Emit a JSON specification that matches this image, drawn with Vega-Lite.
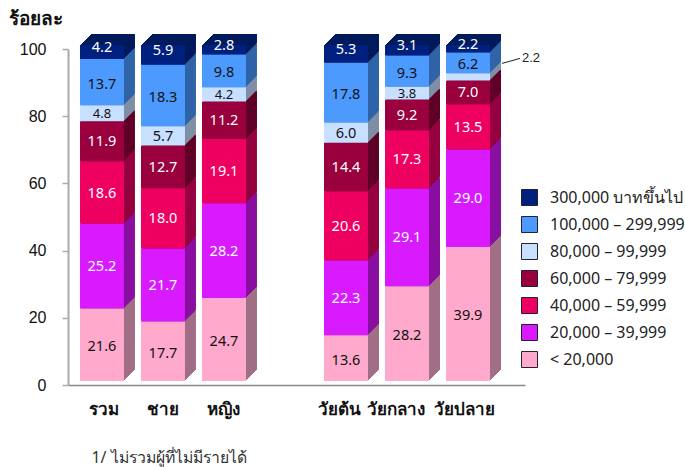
{"$schema":"https://vega.github.io/schema/vega-lite/v6.json","width":457,"height":336,"autosize":"none","padding":{"left":68,"top":49,"right":160,"bottom":82},"background":"white","config":{"view":{"stroke":null}},
"data":{"values":[
{"group":"รวม","income":"< 20,000","rank":1,"value":21.6},{"group":"รวม","income":"20,000 – 39,999","rank":2,"value":25.2},{"group":"รวม","income":"40,000 – 59,999","rank":3,"value":18.6},{"group":"รวม","income":"60,000 – 79,999","rank":4,"value":11.9},{"group":"รวม","income":"80,000 – 99,999","rank":5,"value":4.8},{"group":"รวม","income":"100,000 – 299,999","rank":6,"value":13.7},{"group":"รวม","income":"300,000 บาทขึ้นไป","rank":7,"value":4.2},
{"group":"ชาย","income":"< 20,000","rank":1,"value":17.7},{"group":"ชาย","income":"20,000 – 39,999","rank":2,"value":21.7},{"group":"ชาย","income":"40,000 – 59,999","rank":3,"value":18.0},{"group":"ชาย","income":"60,000 – 79,999","rank":4,"value":12.7},{"group":"ชาย","income":"80,000 – 99,999","rank":5,"value":5.7},{"group":"ชาย","income":"100,000 – 299,999","rank":6,"value":18.3},{"group":"ชาย","income":"300,000 บาทขึ้นไป","rank":7,"value":5.9},
{"group":"หญิง","income":"< 20,000","rank":1,"value":24.7},{"group":"หญิง","income":"20,000 – 39,999","rank":2,"value":28.2},{"group":"หญิง","income":"40,000 – 59,999","rank":3,"value":19.1},{"group":"หญิง","income":"60,000 – 79,999","rank":4,"value":11.2},{"group":"หญิง","income":"80,000 – 99,999","rank":5,"value":4.2},{"group":"หญิง","income":"100,000 – 299,999","rank":6,"value":9.8},{"group":"หญิง","income":"300,000 บาทขึ้นไป","rank":7,"value":2.8},
{"group":"วัยต้น","income":"< 20,000","rank":1,"value":13.6},{"group":"วัยต้น","income":"20,000 – 39,999","rank":2,"value":22.3},{"group":"วัยต้น","income":"40,000 – 59,999","rank":3,"value":20.6},{"group":"วัยต้น","income":"60,000 – 79,999","rank":4,"value":14.4},{"group":"วัยต้น","income":"80,000 – 99,999","rank":5,"value":6.0},{"group":"วัยต้น","income":"100,000 – 299,999","rank":6,"value":17.8},{"group":"วัยต้น","income":"300,000 บาทขึ้นไป","rank":7,"value":5.3},
{"group":"วัยกลาง","income":"< 20,000","rank":1,"value":28.2},{"group":"วัยกลาง","income":"20,000 – 39,999","rank":2,"value":29.1},{"group":"วัยกลาง","income":"40,000 – 59,999","rank":3,"value":17.3},{"group":"วัยกลาง","income":"60,000 – 79,999","rank":4,"value":9.2},{"group":"วัยกลาง","income":"80,000 – 99,999","rank":5,"value":3.8},{"group":"วัยกลาง","income":"100,000 – 299,999","rank":6,"value":9.3},{"group":"วัยกลาง","income":"300,000 บาทขึ้นไป","rank":7,"value":3.1},
{"group":"วัยปลาย","income":"< 20,000","rank":1,"value":39.9},{"group":"วัยปลาย","income":"20,000 – 39,999","rank":2,"value":29.0},{"group":"วัยปลาย","income":"40,000 – 59,999","rank":3,"value":13.5},{"group":"วัยปลาย","income":"60,000 – 79,999","rank":4,"value":7.0},{"group":"วัยปลาย","income":"80,000 – 99,999","rank":5,"value":2.2},{"group":"วัยปลาย","income":"100,000 – 299,999","rank":6,"value":6.2},{"group":"วัยปลาย","income":"300,000 บาทขึ้นไป","rank":7,"value":2.2}
]},
"transform":[{"stack":"value","groupby":["group"],"sort":[{"field":"rank","order":"ascending"}],"as":["y0","y1"]},{"calculate":"(datum.y0+datum.y1)/2","as":"mid"}],
"encoding":{"x":{"field":"group","type":"nominal","sort":null,"scale":{"domain":["รวม","ชาย","หญิง"," ","วัยต้น","วัยกลาง","วัยปลาย"],"paddingInner":0.279,"paddingOuter":0.385,"align":0.255},
"axis":{"title":"1/ ไม่รวมผู้ที่ไม่มีรายได้","titleFont":"Noto Sans","titleFontSize":15.8,"titleFontWeight":"normal","titleColor":"#333","titleAnchor":"start","titleAlign":"left","titleBaseline":"middle","titleX":23,"titleY":72,"labelFont":"Noto Sans","labelFontSize":17,"labelFontWeight":"bold","labelColor":"#111","labelAngle":0,"labelPadding":16,"labelOffset":{"expr":"datum.value==='วัยต้น'?-6.5:datum.value==='วัยกลาง'?-11.5:datum.value==='วัยปลาย'?-4:datum.value==='รวม'?2:0"},"ticks":false,"domainColor":"#888","domainWidth":1.5,"grid":false}}},
"layer":[
{"encoding":{"y":{"field":"y0","type":"quantitative","scale":{"domain":[0,100],"nice":false},"axis":{"values":[0,20,40,60,80,100],"title":"ร้อยละ","titleFont":"Noto Sans","titleFontSize":19,"titleFontWeight":"bold","titleColor":"#111","titleAngle":0,"titleAlign":"left","titleBaseline":"middle","titleX":-60,"titleY":-31,"labelFont":"Liberation Sans","labelFontSize":16,"labelColor":"#111","labelPadding":16,"tickColor":"#aaa","tickSize":6,"tickWidth":1.5,"domainColor":"#aaa","domainWidth":2,"grid":false}},"y2":{"field":"y1"}},
"layer":[
{"mark":{"type":"bar","xOffset":11,"x2Offset":11,"yOffset":-15,"y2Offset":-15},"encoding":{"fill":{"field":"income","type":"nominal","scale":{"domain":["< 20,000","20,000 – 39,999","40,000 – 59,999","60,000 – 79,999","80,000 – 99,999","100,000 – 299,999","300,000 บาทขึ้นไป"],"range":["#a06f85","#890fa0","#950040","#600028","#7f8fa5","#3064a8","#001a5c"]},"legend":null}}},
{"mark":{"type":"bar","xOffset":10,"x2Offset":10,"yOffset":-14,"y2Offset":-14},"encoding":{"fill":{"field":"income","type":"nominal","legend":null}}},
{"mark":{"type":"bar","xOffset":9,"x2Offset":9,"yOffset":-13,"y2Offset":-13},"encoding":{"fill":{"field":"income","type":"nominal","legend":null}}},
{"mark":{"type":"bar","xOffset":8,"x2Offset":8,"yOffset":-12,"y2Offset":-12},"encoding":{"fill":{"field":"income","type":"nominal","legend":null}}},
{"mark":{"type":"bar","xOffset":7,"x2Offset":7,"yOffset":-11,"y2Offset":-11},"encoding":{"fill":{"field":"income","type":"nominal","legend":null}}},
{"mark":{"type":"bar","xOffset":6,"x2Offset":6,"yOffset":-10,"y2Offset":-10},"encoding":{"fill":{"field":"income","type":"nominal","legend":null}}},
{"mark":{"type":"bar","xOffset":5,"x2Offset":5,"yOffset":-9,"y2Offset":-9},"encoding":{"fill":{"field":"income","type":"nominal","legend":null}}},
{"mark":{"type":"bar","xOffset":4,"x2Offset":4,"yOffset":-8,"y2Offset":-8},"encoding":{"fill":{"field":"income","type":"nominal","legend":null}}},
{"mark":{"type":"bar","xOffset":3,"x2Offset":3,"yOffset":-7,"y2Offset":-7},"encoding":{"fill":{"field":"income","type":"nominal","legend":null}}},
{"mark":{"type":"bar","xOffset":2,"x2Offset":2,"yOffset":-6,"y2Offset":-6},"encoding":{"fill":{"field":"income","type":"nominal","legend":null}}},
{"mark":{"type":"bar","xOffset":1,"x2Offset":1,"yOffset":-5,"y2Offset":-5},"encoding":{"fill":{"field":"income","type":"nominal","legend":null}}},
{"mark":{"type":"bar","yOffset":-4,"y2Offset":-4},"encoding":{"color":{"field":"income","type":"nominal","scale":{"domain":["300,000 บาทขึ้นไป","100,000 – 299,999","80,000 – 99,999","60,000 – 79,999","40,000 – 59,999","20,000 – 39,999","< 20,000"],"range":["#002080","#4d9aff","#c8e0ff","#99003d","#ee0060","#d91aff","#ffaacc"]},"legend":{"title":null,"orient":"none","legendX":453,"legendY":140,"symbolType":"square","symbolSize":256,"symbolStrokeColor":"#223","symbolStrokeWidth":1,"labelFont":"Noto Sans","labelFontSize":16,"labelColor":"#222","labelLimit":200,"labelOffset":12,"rowPadding":6}}}}
]},
{"transform":[{"filter":"datum.rank===7"}],"mark":{"type":"text","font":"Noto Sans","dy":-8,"fontSize":14.5},"encoding":{"y":{"field":"mid","type":"quantitative"},"text":{"field":"value","type":"quantitative","format":".1f"},"color":{"value":"white"}}},
{"transform":[{"filter":"datum.rank===1||datum.rank===6"}],"mark":{"type":"text","font":"Noto Sans","dy":-1.5,"fontSize":14.5},"encoding":{"y":{"field":"mid","type":"quantitative"},"text":{"field":"value","type":"quantitative","format":".1f"},"color":{"value":"#111"}}},
{"transform":[{"filter":"(datum.rank>=2&&datum.rank<=5)&&!(datum.group==='วัยปลาย'&&datum.rank===5)"}],"mark":{"type":"text","font":"Noto Sans","dy":-3,"fontSize":14.5},"encoding":{"y":{"field":"mid","type":"quantitative"},"text":{"field":"value","type":"quantitative","format":".1f"},"size":{"condition":{"test":"datum.rank===5&&datum.value<5","value":13},"value":14.5},"color":{"condition":{"test":"datum.rank===5","value":"#111"},"value":"white"}}},
{"transform":[{"filter":"datum.group==='วัยปลาย'&&datum.rank===5"}],"mark":{"type":"rule","color":"#222","strokeWidth":1,"xOffset":34,"x2Offset":52,"yOffset":-17.5,"y2Offset":-22.5},"encoding":{"y":{"field":"mid","type":"quantitative"},"y2":{"field":"mid"},"x2":{"field":"group"}}},
{"transform":[{"filter":"datum.group==='วัยปลาย'&&datum.rank===5"}],"mark":{"type":"text","font":"Liberation Sans","fontSize":13,"color":"#222","dx":63,"dy":-23},"encoding":{"y":{"field":"mid","type":"quantitative"},"text":{"field":"value","type":"quantitative","format":".1f"}}}
]}
